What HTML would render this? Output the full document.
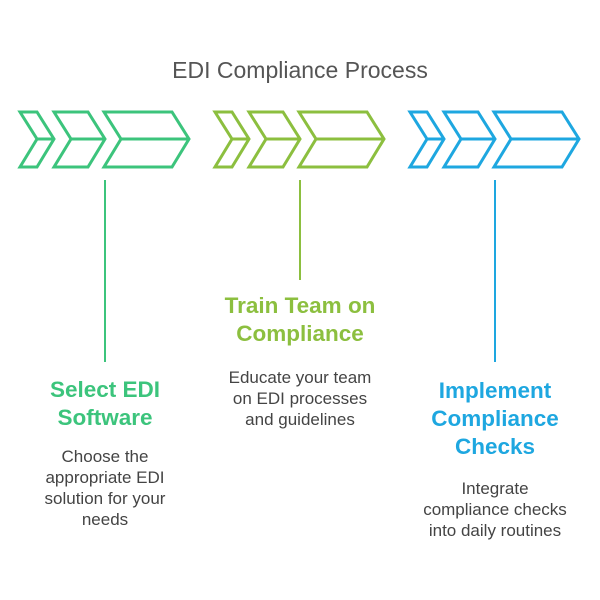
<!DOCTYPE html>
<html><head><style>
body{margin:0;width:600px;height:600px;background:#fff;font-family:"Liberation Sans",sans-serif;position:relative;overflow:hidden}
.t{position:absolute;text-align:center;width:200px}
.h{font-weight:bold;font-size:22.5px;line-height:28px}
.b{font-size:17px;line-height:21px;color:#444}
</style></head><body>
<svg width="600" height="600" style="position:absolute;left:0;top:0" fill="none" stroke-width="3" stroke-linejoin="miter">
<text x="300" y="78" text-anchor="middle" font-family="Liberation Sans" font-size="23" fill="#555" stroke="none">EDI Compliance Process</text>
<g stroke="#3cc47c">
<path d="M20 112H37L54 139L37 167H20L37 139Z M37 139H54"/>
<path d="M54 112H88L105 139L88 167H54L71 139Z M71 139H105"/>
<path d="M104 112H172L189 139L172 167H104L121 139Z M121 139H189"/>
</g>
<g stroke="#8cbf3f" transform="translate(195,0)">
<path d="M20 112H37L54 139L37 167H20L37 139Z M37 139H54"/>
<path d="M54 112H88L105 139L88 167H54L71 139Z M71 139H105"/>
<path d="M104 112H172L189 139L172 167H104L121 139Z M121 139H189"/>
</g>
<g stroke="#1ea7e0" transform="translate(390,0)">
<path d="M20 112H37L54 139L37 167H20L37 139Z M37 139H54"/>
<path d="M54 112H88L105 139L88 167H54L71 139Z M71 139H105"/>
<path d="M104 112H172L189 139L172 167H104L121 139Z M121 139H189"/>
</g>
<line x1="105" y1="180" x2="105" y2="362" stroke="#3cc47c" stroke-width="2"/>
<line x1="300" y1="180" x2="300" y2="280" stroke="#8cbf3f" stroke-width="2"/>
<line x1="495" y1="180" x2="495" y2="362" stroke="#1ea7e0" stroke-width="2"/>
</svg>
<div class="t h" style="left:5px;top:376px;color:#3cc47c">Select EDI<br>Software</div>
<div class="t b" style="left:5px;top:446px">Choose the<br>appropriate EDI<br>solution for your<br>needs</div>
<div class="t h" style="left:200px;top:292px;color:#8cbf3f">Train Team on<br>Compliance</div>
<div class="t b" style="left:200px;top:367px">Educate your team<br>on EDI processes<br>and guidelines</div>
<div class="t h" style="left:395px;top:377px;color:#1ea7e0">Implement<br>Compliance<br>Checks</div>
<div class="t b" style="left:395px;top:478px">Integrate<br>compliance checks<br>into daily routines</div>
</body></html>
